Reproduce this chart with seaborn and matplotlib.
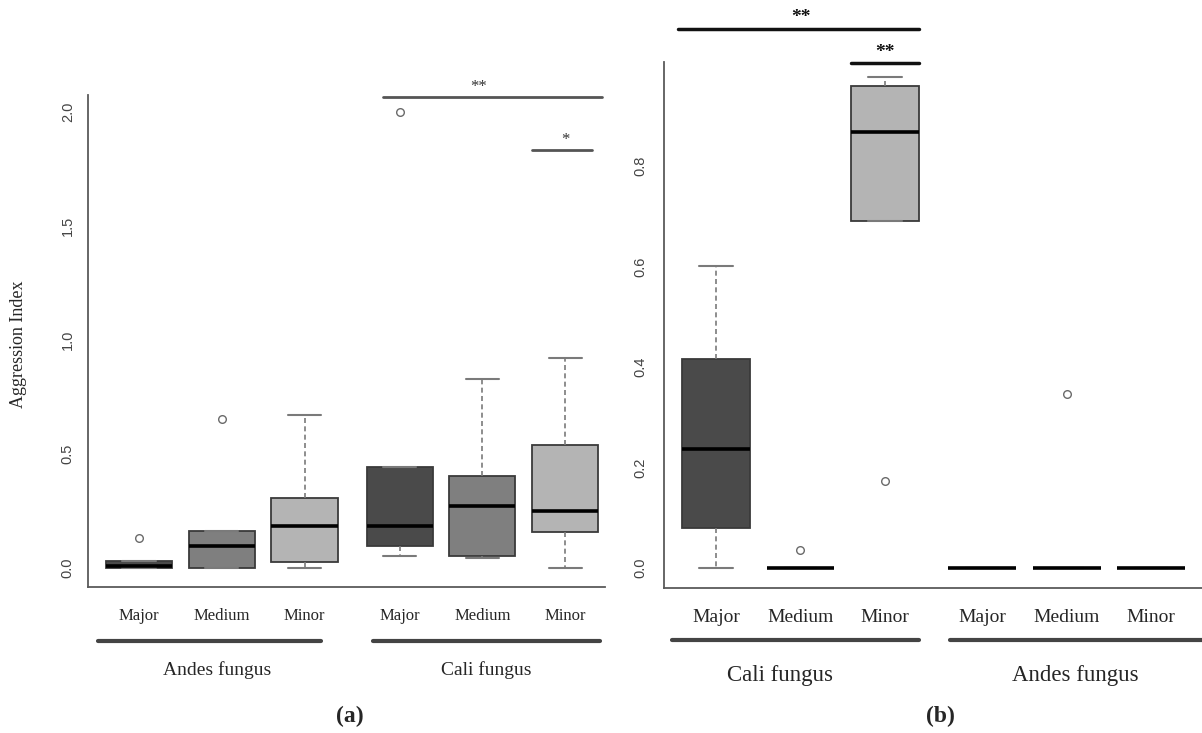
import matplotlib
matplotlib.use('Agg')
import matplotlib.pyplot as plt
import seaborn as sns
import pandas as pd
import numpy as np

sizes = ['Major', 'Medium', 'Minor']
box_colors = {'Major': '#4a4a4a', 'Medium': '#7f7f7f', 'Minor': '#b4b4b4'}

# (a) aggression index (min, q1, median, q3, max/outlier)
groups_a = ['Andes fungus', 'Cali fungus']
a_andes_major = [0.0, 0.0, 0.008, 0.03, 0.132]
a_andes_medium = [0.0, 0.0, 0.097, 0.163, 0.656]
a_andes_minor = [0.0, 0.027, 0.186, 0.309, 0.672]
a_cali_major = [0.052, 0.097, 0.183, 0.445, 2.0]
a_cali_medium = [0.042, 0.052, 0.274, 0.402, 0.829]
a_cali_minor = [0.0, 0.158, 0.249, 0.542, 0.922]

# (b)
groups_b = ['Cali fungus', 'Andes fungus']
b_cali_major = [0.0, 0.080, 0.237, 0.416, 0.600]
b_cali_medium = [0.0, 0.0, 0.0, 0.0, 0.035]
b_cali_minor = [0.173, 0.691, 0.868, 0.960, 0.977]
b_andes_major = [0.0, 0.0, 0.0, 0.0, 0.0]
b_andes_medium = [0.0, 0.0, 0.0, 0.0, 0.346]
b_andes_minor = [0.0, 0.0, 0.0, 0.0, 0.0]

GAP = 0.15  # extra space between the two fungus groups


def make_df(groups, values):
    rows = []
    for g, grp in enumerate(groups):
        for s, size in enumerate(sizes):
            for v in values[g][s]:
                rows.append({'fungus': grp, 'size': size,
                             'pos': 1 + s + g * (3 + GAP), 'value': v})
    return pd.DataFrame(rows)


df_a = make_df(groups_a, [[a_andes_major, a_andes_medium, a_andes_minor],
                          [a_cali_major, a_cali_medium, a_cali_minor]])
df_b = make_df(groups_b, [[b_cali_major, b_cali_medium, b_cali_minor],
                          [b_andes_major, b_andes_medium, b_andes_minor]])

sns.set_style('white')
plt.rcParams['font.family'] = ['Liberation Serif', 'DejaVu Serif']

fig = plt.figure(figsize=(12.02, 7.33), dpi=100)
ax_a = fig.add_axes([0.0732, 0.1992, 0.430, 0.671])
ax_b = fig.add_axes([0.5524, 0.1978, 0.4476, 0.7176])


def draw(ax, df, groups, tick_fs, ypad):
    sns.boxplot(data=df, x='pos', y='value', hue='size', palette=box_colors,
                native_scale=True, dodge=False, width=0.8, legend=False,
                linecolor='#3a3a3a', linewidth=1.3, whis=1.5,
                whiskerprops=dict(color='#7a7a7a', linestyle=(0, (3, 2)), linewidth=1.2),
                capprops=dict(color='#7a7a7a', linewidth=1.5),
                medianprops=dict(color='black', linewidth=2.6),
                flierprops=dict(marker='o', markerfacecolor='none',
                                markeredgecolor='#6a6a6a', markersize=5.5,
                                markeredgewidth=1.0),
                ax=ax)
    sns.despine(ax=ax)
    for side in ['left', 'bottom']:
        ax.spines[side].set_color('#5a5a5a')
        ax.spines[side].set_linewidth(1.3)
    pos = sorted(df['pos'].unique())
    ax.set_xticks(pos)
    ax.set_xticklabels(sizes * len(groups), fontsize=tick_fs)
    ax.tick_params(axis='x', length=6, width=1.3, color='#5a5a5a', pad=9)
    ax.tick_params(axis='y', length=6, width=1.3, color='#5a5a5a', pad=ypad,
                   labelrotation=90, labelsize=10.5, labelcolor='#444444')
    for lab in ax.get_yticklabels():
        lab.set_family(['Liberation Sans', 'DejaVu Sans'])
        lab.set_va('center')
    ax.set_xlabel('')
    ax.set_ylabel('')
    return pos


# ---- panel (a)
pos_a = draw(ax_a, df_a, groups_a, 12, 3.5)
ax_a.set_xlim(0.383, 6.63)
ax_a.set_ylim(-0.083, 2.075)
ax_a.set_yticks([0.0, 0.5, 1.0, 1.5, 2.0])
trans = ax_a.get_xaxis_transform()
line_a = [(-0.5, 0.2), (-0.32, 0.42)]
label_a = [-0.06, 0.05]
for g, grp in enumerate(groups_a):
    p = pos_a[g * 3:(g + 1) * 3]
    ax_a.plot([p[0] + line_a[g][0], p[2] + line_a[g][1]], [-0.11, -0.11],
              transform=trans, color='#444444', lw=3, clip_on=False)
    ax_a.text(p[1] + label_a[g], -0.169, grp, transform=trans, ha='center',
              va='center', fontsize=14)
# significance
ax_a.plot([pos_a[3] - 0.2, pos_a[5] + 0.45], [2.067, 2.067], color='#555555',
          lw=2, clip_on=False)
ax_a.text(pos_a[4] - 0.05, 2.11, '**', ha='center', va='center', fontsize=12,
          color='#333333')
ax_a.plot([pos_a[5] - 0.4, pos_a[5] + 0.33], [1.833, 1.833], color='#555555',
          lw=2, clip_on=False)
ax_a.text(pos_a[5], 1.88, '*', ha='center', va='center', fontsize=12,
          color='#333333')

# ---- panel (b)
pos_b = draw(ax_b, df_b, groups_b, 14, 6)
ax_b.set_xlim(0.385, 6.75)
ax_b.set_ylim(-0.04, 1.007)
ax_b.set_yticks([0.0, 0.2, 0.4, 0.6, 0.8])
trans = ax_b.get_xaxis_transform()
line_b = [(-0.52, 0.4), (-0.38, 0.6)]
label_b = [-0.24, 0.1]
for g, grp in enumerate(groups_b):
    p = pos_b[g * 3:(g + 1) * 3]
    ax_b.plot([p[0] + line_b[g][0], p[2] + line_b[g][1]], [-0.099, -0.099],
              transform=trans, color='#444444', lw=3, clip_on=False)
    ax_b.text(p[1] + label_b[g], -0.167, grp, transform=trans, ha='center',
              va='center', fontsize=16.5)
ax_b.plot([pos_b[0] - 0.45, pos_b[2] + 0.4], [1.073, 1.073], color='#111111',
          lw=2.5, clip_on=False)
ax_b.text(pos_b[1], 1.095, '**', ha='center', va='center', fontsize=14,
          color='#111111', fontweight='bold')
ax_b.plot([pos_b[2] - 0.4, pos_b[2] + 0.4], [1.005, 1.005], color='#111111',
          lw=2.5, clip_on=False)
ax_b.text(pos_b[2], 1.025, '**', ha='center', va='center', fontsize=14,
          color='#111111', fontweight='bold')

fig.text(0.015, 0.531, 'Aggression Index', rotation=90, ha='center',
         va='center', fontsize=13)
fig.text(0.291, 0.022, '(a)', ha='center', va='center', fontsize=17,
         fontweight='bold')
fig.text(0.782, 0.022, '(b)', ha='center', va='center', fontsize=17,
         fontweight='bold')

fig.savefig('out.png', dpi=100)
